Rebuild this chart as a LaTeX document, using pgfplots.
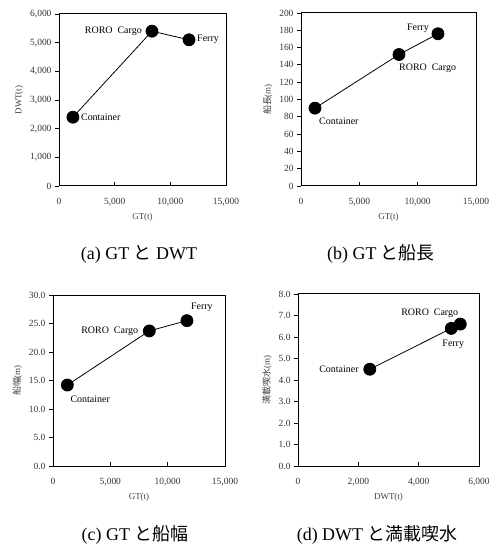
\documentclass[border=0pt]{standalone}
\usepackage{fontspec}
\setmainfont{Liberation Serif}
\newfontfamily\cjk{Noto Sans CJK JP}
\usepackage{pgfplots}
\pgfplotsset{compat=1.18}
\pgfplotsset{
  myax/.style={
    scale only axis,
    axis line style={line width=1pt, black},
    tick pos=left,
    xtick align=inside, ytick align=outside,
    major tick length=4bp,
    tick style={black, line width=0.8pt},
    ymin=0,
    /pgf/number format/assume math mode=true,
    /pgf/number format/1000 sep={,},
    scaled ticks=false,
    tick label style={font=\fontsize{9.5}{10}\selectfont, color=black!80},
    xticklabel style={yshift=-9bp},
    label style={font=\fontsize{9}{10}\selectfont, color=black!75},
    xlabel style={yshift=0bp},
    clip=false,
  },
  dat/.style={black, line width=0.8pt, mark=*, mark size=6bp, mark options={fill=black}},
}
\tikzset{lab/.style={font=\fontsize{10}{11}\selectfont, inner sep=1bp},
  captxt/.style={font=\fontsize{18}{20}\selectfont, inner sep=0pt, anchor=base}}
\begin{document}
\begin{tikzpicture}
\path (0bp,0bp) rectangle (492bp,544bp);
% (a)
\begin{axis}[myax, at={(59bp,358bp)}, anchor=south west, width=167bp, height=172bp,
  xmin=0, xmax=15000, xtick={0,5000,10000,15000},
  ymax=6000, ytick={0,1000,...,6000},
  xlabel={GT(t)}, ylabel={DWT(t)}]
\addplot[dat] coordinates {(1250,2400) (8350,5400) (11680,5100)};
\node[lab, anchor=west] at (axis cs:1250,2400) [xshift=7bp] {Container};
\node[lab, anchor=east] at (axis cs:8350,5400) [xshift=-9bp] {RORO\ \ Cargo};
\node[lab, anchor=west] at (axis cs:11680,5100) [xshift=7bp] {Ferry};
\end{axis}
% (b)
\begin{axis}[myax, at={(301bp,358bp)}, anchor=south west, width=175bp, height=173bp,
  xmin=0, xmax=15000, xtick={0,5000,10000,15000},
  ymax=200, ytick={0,20,...,200},
  xlabel={GT(t)}, ylabel={\cjk 船長\rmfamily(m)}]
\addplot[dat] coordinates {(1200,90) (8400,152) (11740,176)};
\node[lab, anchor=west] at (axis cs:1200,90) [xshift=3bp, yshift=-13bp] {Container};
\node[lab, anchor=west] at (axis cs:8400,152) [xshift=-1bp, yshift=-14bp] {RORO\ \ Cargo};
\node[lab, anchor=east] at (axis cs:11740,176) [xshift=-8bp, yshift=5bp] {Ferry};
\end{axis}
% (c)
\begin{axis}[myax, at={(53bp,78bp)}, anchor=south west, width=172bp, height=171bp,
  xmin=0, xmax=15000, xtick={0,5000,10000,15000},
  ymax=30, ytick={0,5,...,30},
  yticklabel style={/pgf/number format/.cd, fixed, fixed zerofill, precision=1},
  xlabel={GT(t)}, ylabel={\cjk 船幅\rmfamily(m)}]
\addplot[dat] coordinates {(1250,14.2) (8400,23.7) (11680,25.5)};
\node[lab, anchor=west] at (axis cs:1250,14.2) [xshift=2bp, yshift=-14bp] {Container};
\node[lab, anchor=east] at (axis cs:8400,23.7) [xshift=-10bp] {RORO\ \ Cargo};
\node[lab, anchor=west] at (axis cs:11680,25.5) [xshift=3bp, yshift=13bp] {Ferry};
\end{axis}
% (d)
\begin{axis}[myax, at={(298bp,78bp)}, anchor=south west, width=181bp, height=172bp,
  xmin=0, xmax=6000, xtick={0,2000,4000,6000},
  ymax=8, ytick={0,1,...,8},
  yticklabel style={/pgf/number format/.cd, fixed, fixed zerofill, precision=1},
  xlabel={DWT(t)}, ylabel={\cjk 満載喫水\rmfamily(m)}]
\addplot[dat] coordinates {(2380,4.5) (5080,6.4) (5380,6.6)};
\node[lab, anchor=east] at (axis cs:2380,4.5) [xshift=-10bp] {Container};
\node[lab, anchor=east] at (axis cs:5380,6.6) [xshift=-1bp, yshift=11bp] {RORO\ \ Cargo};
\node[lab] at (axis cs:5080,6.4) [xshift=2bp, yshift=-16bp] {Ferry};
\end{axis}
\node[captxt] at (139bp,284bp) {(a) GT {\cjk と} DWT};
\node[captxt] at (381bp,284bp) {(b) GT {\cjk と船長}};
\node[captxt] at (135bp,4bp) {(c) GT {\cjk と船幅}};
\node[captxt] at (377bp,4bp) {(d) DWT {\cjk と満載喫水}};
\end{tikzpicture}
\end{document}
